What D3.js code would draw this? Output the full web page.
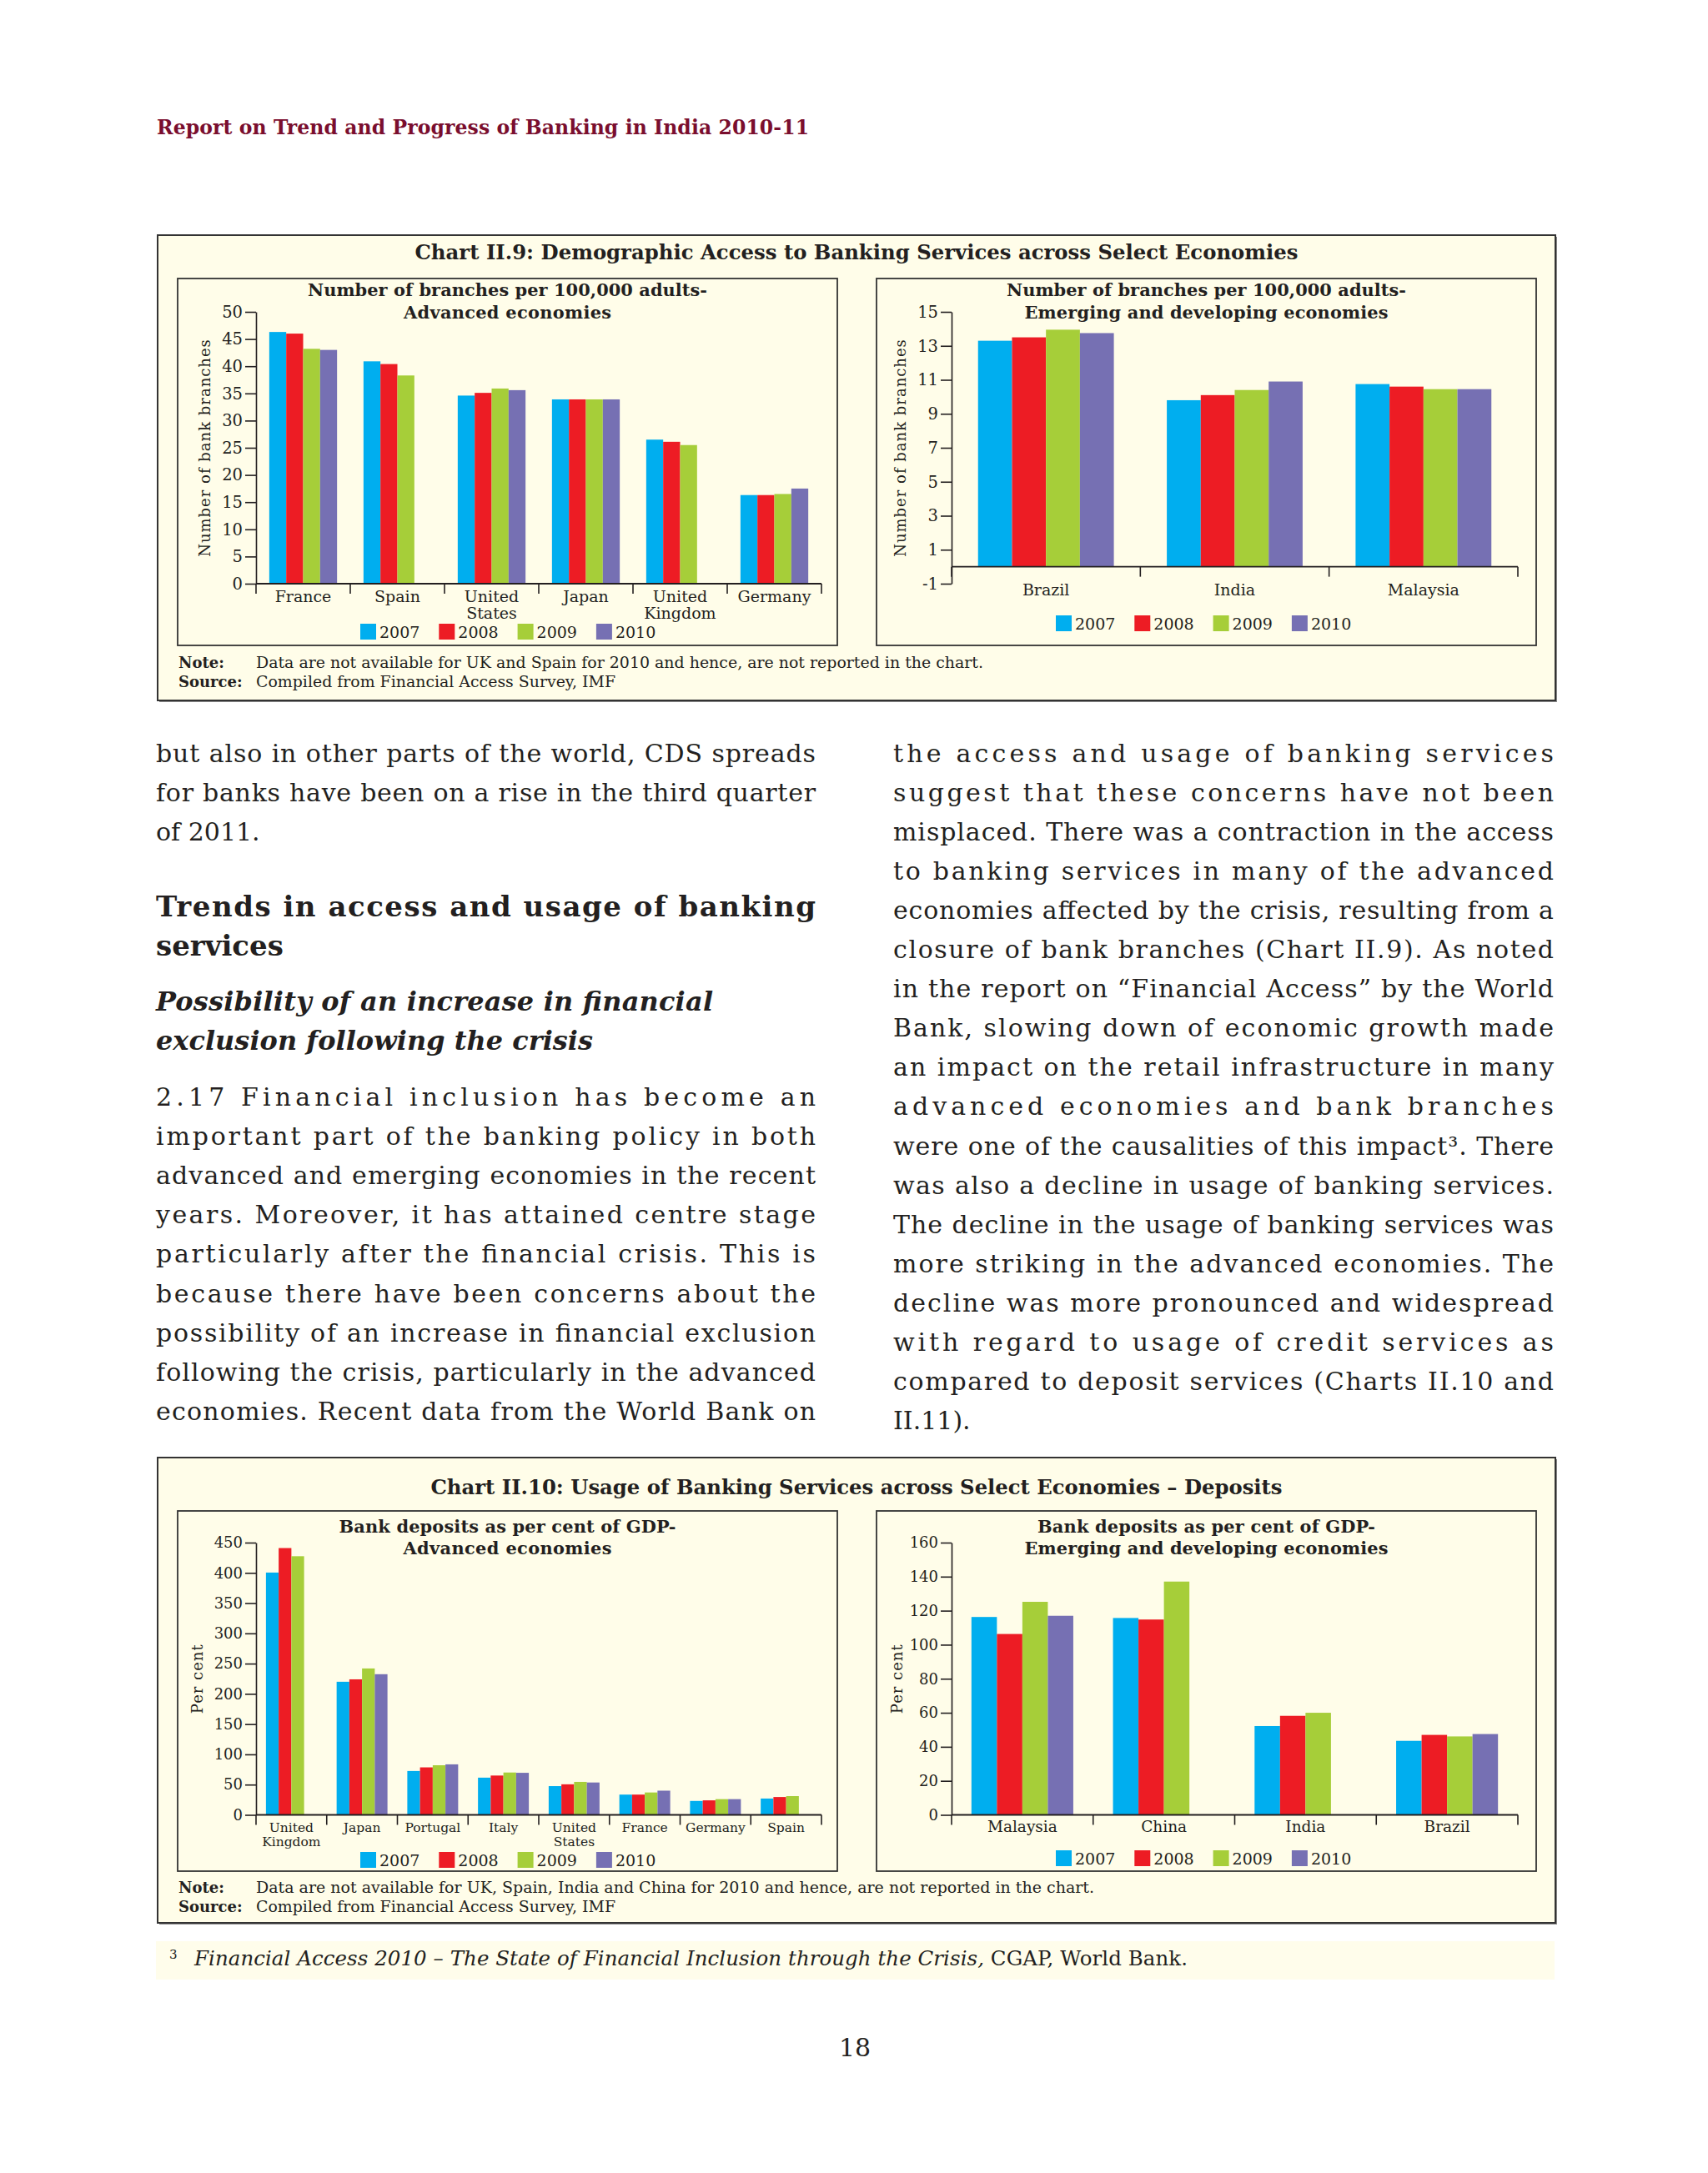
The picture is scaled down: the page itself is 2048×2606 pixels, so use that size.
<!DOCTYPE html>
<html lang="en">
<head>
<meta charset="UTF-8" />
<title>Report on Trend and Progress of Banking in India 2010-11</title>
<style>
  body { margin: 0; background: #fff; }
  svg { display: block; font-family: "DejaVu Serif", serif; }
</style>
</head>
<body>
<svg id="page" width="2048" height="2606"></svg>
<script src="https://d3js.org/d3.v7.min.js"></script>
<script>
// ---- data ----
const years = ["2007", "2008", "2009", "2010"];
const yearColors = ["#00aeef", "#ed1c24", "#a6ce39", "#7670b3"];

// Chart II.9 - branches per 100,000 adults
const advBranchCats = ["France", "Spain", "United States", "Japan", "United Kingdom", "Germany"];
const advBranches = [
  [46.3, 46.0, 43.2, 43.0],
  [40.9, 40.4, 38.3, null],
  [34.6, 35.1, 35.9, 35.6],
  [33.9, 33.9, 33.9, 33.9],
  [26.5, 26.1, 25.5, null],
  [16.3, 16.3, 16.5, 17.5]
];
const emgBranchCats = ["Brazil", "India", "Malaysia"];
const emgBranches = [
  [13.3, 13.5, 13.95, 13.75],
  [9.8, 10.1, 10.4, 10.9],
  [10.75, 10.6, 10.45, 10.45]
];

// Chart II.10 - bank deposits as per cent of GDP
const advDepositCats = ["United Kingdom", "Japan", "Portugal", "Italy", "United States", "France", "Germany", "Spain"];
const advDeposits = [
  [400.5, 441, 427.5, null],
  [220, 224, 242, 232.5],
  [72.5, 78.5, 82, 83.5],
  [61.5, 65, 70, 69.5],
  [47.5, 50.5, 54.5, 53.5],
  [33.5, 33.5, 37, 40],
  [23, 24, 26, 26],
  [27, 29.5, 31, null]
];
const emgDepositCats = ["Malaysia", "China", "India", "Brazil"];
const emgDeposits = [
  [116.3, 106.3, 125.2, 117],
  [115.7, 114.8, 137.1, null],
  [52.2, 58.2, 60, null],
  [43.5, 47, 46.1, 47.5]
];

const branchTicksAdv = d3.range(0, 51, 5);
const branchTicksEmg = d3.range(-1, 16, 2);
const depositTicksAdv = d3.range(0, 451, 50);
const depositTicksEmg = d3.range(0, 161, 20);

// ---- text of the page ----
const headerText = "Report on Trend and Progress of Banking in India 2010-11";
const chart9Title = "Chart II.9: Demographic Access to Banking Services across Select Economies";
const chart10Title = "Chart II.10: Usage of Banking Services across Select Economies \u2013 Deposits";
const chart9Note = "Data are not available for UK and Spain for 2010 and hence, are not reported in the chart.";
const chart10Note = "Data are not available for UK, Spain, India and China for 2010 and hence, are not reported in the chart.";
const sourceText = "Compiled from Financial Access Survey, IMF";

const leftIntro = [
  "but also in other parts of the world, CDS spreads",
  "for banks have been on a rise in the third quarter",
  "of 2011."
];
const heading = ["Trends in access and usage of banking", "services"];
const subHeading = ["Possibility of an increase in financial", "exclusion following the crisis"];
const leftPara = [
  "2.17 Financial inclusion has become an",
  "important part of the banking policy in both",
  "advanced and emerging economies in the recent",
  "years. Moreover, it has attained centre stage",
  "particularly after the financial crisis. This is",
  "because there have been concerns about the",
  "possibility of an increase in financial exclusion",
  "following the crisis, particularly in the advanced",
  "economies. Recent data from the World Bank on"
];
const rightPara = [
  "the access and usage of banking services",
  "suggest that these concerns have not been",
  "misplaced. There was a contraction in the access",
  "to banking services in many of the advanced",
  "economies affected by the crisis, resulting from a",
  "closure of bank branches (Chart II.9). As noted",
  "in the report on \u201cFinancial Access\u201d by the World",
  "Bank, slowing down of economic growth made",
  "an impact on the retail infrastructure in many",
  "advanced economies and bank branches",
  "were one of the causalities of this impact\u00b3. There",
  "was also a decline in usage of banking services.",
  "The decline in the usage of banking services was",
  "more striking in the advanced economies. The",
  "decline was more pronounced and widespread",
  "with regard to usage of credit services as",
  "compared to deposit services (Charts II.10 and",
  "II.11)."
];

const svg = d3.select("#page");
const ink = "#231f20";
const cream = "#fffde9";

// shrink (or slightly grow) a line so that it spans exactly `target` px
function fit(t, target, base, grow) {
  t.attr("font-size", base);
  const w = t.node().getComputedTextLength();
  let s = base;
  if (w > target) s = base * target / w * 0.995;
  else if (grow) s = Math.min(base * target / w, base * grow);
  t.attr("font-size", s).attr("textLength", target).attr("lengthAdjust", "spacing");
  return t;
}

function textBlock(lines, x, y0, lh, width, size, opts) {
  lines.forEach((line, i) => {
    const t = svg.append("text")
      .attr("x", x).attr("y", y0 + i * lh)
      .attr("fill", ink)
      .attr("font-weight", opts.weight || "normal")
      .attr("font-style", opts.style || "normal")
      .attr("font-size", size)
      .text(line);
    const last = i === lines.length - 1;
    if (opts.widths) fit(t, opts.widths[i], size, 1.1);
    else if (!last || opts.justifyLast) fit(t, width, size, false);
  });
}

function chartBox(y0, y1) {
  svg.append("rect").attr("x", 191).attr("y", y0 + 2).attr("width", 1676).attr("height", y1 - y0)
    .attr("fill", "#8a8a8a");
  svg.append("rect").attr("x", 189).attr("y", y0).attr("width", 1676).attr("height", y1 - y0)
    .attr("fill", cream).attr("stroke", "#333").attr("stroke-width", 2);
}

function panel(p) {
  const [bx0, by0, bx1, by1] = p.box;
  svg.append("rect").attr("x", bx0).attr("y", by0).attr("width", bx1 - bx0).attr("height", by1 - by0)
    .attr("fill", cream).attr("stroke", "#333").attr("stroke-width", 1.8);
  const cx = (bx0 + bx1) / 2;

  p.title.forEach((line, i) => {
    const t = svg.append("text").attr("x", cx).attr("y", p.titleY[i])
      .attr("text-anchor", "middle").attr("font-weight", "bold").attr("fill", ink).text(line);
    fit(t, p.titleW[i], 19, 1.1);
  });

  const y = d3.scaleLinear().domain(p.domain).range([p.yA, p.yB]);
  const x = d3.scaleBand().domain(p.cats).range([p.x0, p.x1]).padding(0);
  const xi = d3.scaleBand().domain(years).range([0, x.bandwidth()]).paddingInner(0).paddingOuter(0.78);
  const g = svg.append("g");

  p.cats.forEach((c, ci) => {
    g.selectAll(null)
      .data(p.values[ci].map((v, k) => ({ v, k })).filter(d => d.v !== null))
      .join("rect")
      .attr("x", d => x(c) + xi(years[d.k]))
      .attr("width", xi.bandwidth())
      .attr("y", d => y(d.v))
      .attr("height", d => y(0) - y(d.v))
      .attr("fill", d => yearColors[d.k]);
  });

  // y axis
  const ya = svg.append("g").attr("transform", `translate(${p.x0},0)`)
    .call(d3.axisLeft(y).tickValues(p.ticks).tickFormat(d => String(d))
      .tickSize(13).tickSizeOuter(0).tickPadding(3));
  ya.selectAll("path, line").attr("stroke", ink).attr("stroke-width", 1.6);
  ya.selectAll("text").attr("font-family", "DejaVu Serif").attr("font-size", p.tickFont).attr("fill", ink);

  // category axis on the zero line
  const y0 = y(0);
  svg.append("line").attr("x1", p.x0).attr("x2", p.x1).attr("y1", y0).attr("y2", y0)
    .attr("stroke", ink).attr("stroke-width", 1.8);
  svg.selectAll(null).data(p.cats.map(c => x(c)).concat([p.x1])).join("line")
    .attr("x1", d => d).attr("x2", d => d).attr("y1", y0).attr("y2", y0 + 12)
    .attr("stroke", ink).attr("stroke-width", 1.6);
  p.cats.forEach(c => {
    const t = svg.append("text").attr("text-anchor", "middle").attr("font-size", p.catFont).attr("fill", ink);
    c.split(" ").forEach((w, i) => {
      t.append("tspan").attr("x", x(c) + x.bandwidth() / 2).attr("y", y0 + p.catDy + i * p.catLh).text(w);
    });
  });

  // y label
  const ly = (p.yA + p.yB) / 2;
  svg.append("text").attr("transform", `translate(${p.yLabelX},${ly}) rotate(-90)`)
    .attr("text-anchor", "middle").attr("dominant-baseline", "central")
    .attr("font-size", 18).attr("letter-spacing", 1).attr("fill", ink).text(p.yLabel);

  // legend
  const lg = svg.append("g").attr("transform", `translate(${p.legendX},${p.legendY})`);
  const item = lg.selectAll("g").data(years).join("g").attr("transform", (d, i) => `translate(${i * 94.3},0)`);
  item.append("rect").attr("width", 19).attr("height", 19).attr("fill", (d, i) => yearColors[i]);
  item.append("text").attr("x", 23).attr("y", 17).attr("font-size", 19).attr("fill", ink).text(d => d);
}

function notes(y, note, noteW) {
  svg.append("text").attr("x", 214).attr("y", y).attr("font-size", 18).attr("font-weight", "bold").attr("fill", ink).text("Note:");
  svg.append("text").attr("x", 214).attr("y", y + 23).attr("font-size", 18).attr("font-weight", "bold").attr("fill", ink).text("Source:");
  fit(svg.append("text").attr("x", 307).attr("y", y).attr("fill", ink).text(note), noteW, 18, 1.08);
  fit(svg.append("text").attr("x", 307).attr("y", y + 23).attr("fill", ink).text(sourceText), 431, 18, 1.08);
}

function draw() {
  // running header
  fit(svg.append("text").attr("x", 188).attr("y", 161).attr("font-weight", "bold")
    .attr("fill", "#7a0e2e").text(headerText), 782, 24, 1.1);

  // Chart II.9
  chartBox(282, 840);
  fit(svg.append("text").attr("x", 1027).attr("y", 311).attr("text-anchor", "middle")
    .attr("font-weight", "bold").attr("fill", ink).text(chart9Title), 1059, 23, 1.1);
  panel({ box: [213, 334, 1004, 774], x0: 307, x1: 985, yA: 700, yB: 374, domain: [0, 50], ticks: branchTicksAdv,
    cats: advBranchCats, values: advBranches,
    title: ["Number of branches per 100,000 adults-", "Advanced economies"], titleW: [479, 249], titleY: [355, 382],
    yLabel: "Number of bank branches", yLabelX: 245, tickFont: 19.5, catFont: 19, catDy: 22, catLh: 20,
    legendX: 432, legendY: 748 });
  panel({ box: [1051, 334, 1842, 774], x0: 1141, x1: 1820, yA: 700, yB: 374, domain: [-1, 15], ticks: branchTicksEmg,
    cats: emgBranchCats, values: emgBranches,
    title: ["Number of branches per 100,000 adults-", "Emerging and developing economies"], titleW: [479, 436], titleY: [355, 382],
    yLabel: "Number of bank branches", yLabelX: 1079, tickFont: 19.5, catFont: 19, catDy: 34.5, catLh: 20,
    legendX: 1266, legendY: 738 });
  notes(801, chart9Note, 872);

  // body text
  textBlock(leftIntro, 187, 914, 47.05, 791, 30, {});
  textBlock(heading, 187, 1099, 47, 791, 34, { weight: "bold" });
  textBlock(subHeading, 187, 1212, 47, 0, 29, { weight: "bold", style: "italic", widths: [668, 524] });
  textBlock(leftPara, 187, 1326, 47.1, 791, 30, { justifyLast: true });
  textBlock(rightPara, 1071, 914, 47.05, 792, 30, {});

  // Chart II.10
  chartBox(1748, 2306);
  fit(svg.append("text").attr("x", 1027).attr("y", 1792).attr("text-anchor", "middle")
    .attr("font-weight", "bold").attr("fill", ink).text(chart10Title), 1021, 23, 1.1);
  panel({ box: [213, 1812, 1004, 2244], x0: 307, x1: 985, yA: 2176.5, yB: 1850, domain: [0, 450], ticks: depositTicksAdv,
    cats: advDepositCats, values: advDeposits,
    title: ["Bank deposits as per cent of GDP-", "Advanced economies"], titleW: [404, 250], titleY: [1838, 1864],
    yLabel: "Per cent", yLabelX: 236.5, tickFont: 18, catFont: 15.5, catDy: 20.5, catLh: 16.5,
    legendX: 432, legendY: 2221 });
  panel({ box: [1051, 1812, 1842, 2244], x0: 1141, x1: 1820, yA: 2176.5, yB: 1850, domain: [0, 160], ticks: depositTicksEmg,
    cats: emgDepositCats, values: emgDeposits,
    title: ["Bank deposits as per cent of GDP-", "Emerging and developing economies"], titleW: [405, 436], titleY: [1838, 1864],
    yLabel: "Per cent", yLabelX: 1075, tickFont: 18, catFont: 18.5, catDy: 20.5, catLh: 18,
    legendX: 1266, legendY: 2219 });
  notes(2270, chart10Note, 1005);

  // footnote
  svg.append("rect").attr("x", 187).attr("y", 2328).attr("width", 1677).attr("height", 46).attr("fill", "#fffdeb");
  svg.append("text").attr("x", 203).attr("y", 2349).attr("font-size", 15).attr("fill", ink).text("3");
  const fn = svg.append("text").attr("x", 233).attr("y", 2357).attr("fill", ink);
  fn.append("tspan").attr("font-style", "italic").text("Financial Access 2010 \u2013 The State of Financial Inclusion through the Crisis,");
  fn.append("tspan").text(" CGAP, World Bank.");
  fit(fn, 1191, 25, 1.1);

  // page number
  svg.append("text").attr("x", 1025).attr("y", 2466).attr("text-anchor", "middle")
    .attr("font-size", 30).attr("fill", ink).text("18");
}

document.fonts.ready.then(draw);
</script>
</body>
</html>
